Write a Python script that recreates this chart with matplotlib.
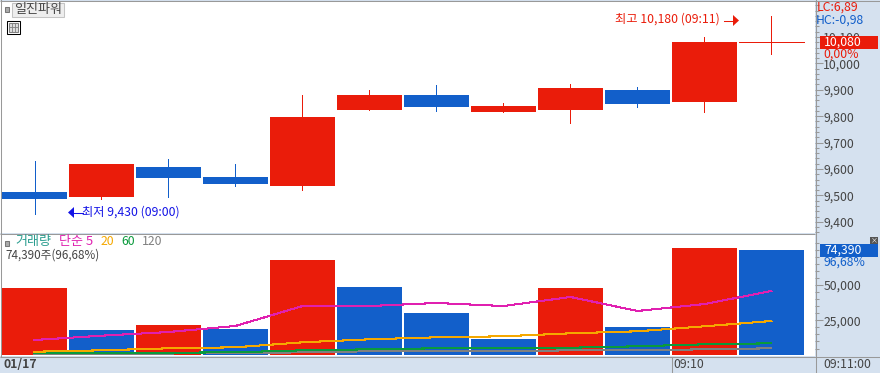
import matplotlib
matplotlib.use("Agg")
import matplotlib.pyplot as plt
from matplotlib.patches import Rectangle, Polygon

plt.rcParams['font.family'] = ['Noto Sans CJK KR', 'DejaVu Sans']

# candles
opens  = [9513, 9494, 9608, 9570, 9536, 9823, 9879, 9815, 9823, 9898, 9853, 10080]
closes = [9487, 9619, 9566, 9543, 9796, 9879, 9834, 9838, 9906, 9845, 10080, 10080]
highs  = [9630, 9619, 9638, 9619, 9879, 9898, 9917, 9849, 9921, 9909, 10100, 10180]
lows   = [9430, 9485, 9494, 9536, 9521, 9823, 9819, 9815, 9774, 9834, 9815, 10034]

# volume
volumes = [47900, 18100, 21700, 18800, 67700, 48600, 30200, 11800, 47900, 20300, 76200, 74390]
vol_up  = [True, False, True, False, True, False, False, False, True, False, True, False]
ma5   = [11050, 14100, 16700, 21000, 35100, 35100, 37250, 35100, 41500, 31600, 36500, 45750]
ma20  = [2760, 3750, 5170, 5880, 9420, 11540, 12960, 13670, 15790, 17210, 20750, 24500]
ma60  = [1840, 1980, 2050, 2340, 3750, 4460, 5170, 5170, 5590, 6590, 8000, 8710]
ma120 = [1350, 1420, 1490, 1630, 2340, 3050, 3050, 3050, 3750, 3750, 4460, 5170]

price_ticks = [9400, 9500, 9600, 9700, 9800, 9900, 10000, 10100]
price_labels = ['9,400', '9,500', '9,600', '9,700', '9,800', '9,900', '10,000', '10,100']
vol_ticks = [25000, 50000]
vol_labels = ['25,000', '50,000']

RED = '#ea1c0a'
BLUE = '#125fca'
GREY = '#999999'
TXT = '#444444'
PANEL = '#d5e1ef'
W, H = 880, 373


def axes_px(x0, y0, x1, y1):
    return fig.add_axes([x0 / W, 1 - y1 / H, (x1 - x0) / W, (y1 - y0) / H])


def style_axis(ax, ticks, labels, minor):
    ax.set_xlim(-0.515, 11.65)
    ax.set_xticks([])
    ax.yaxis.tick_right()
    ax.set_yticks(ticks)
    ax.set_yticklabels(labels, fontsize=8.8, color=TXT)
    ax.set_yticks(minor, minor=True)
    ax.tick_params(axis='y', which='major', length=6, width=0.75, color=GREY, pad=0)
    ax.tick_params(axis='y', which='minor', length=3, width=0.75, color=GREY)
    for s in ax.spines.values():
        s.set_visible(False)


fig = plt.figure(figsize=(8.8, 3.73), dpi=100, facecolor=PANEL)

# price panel
ax = axes_px(0, 1, 815, 233)
n = range(len(opens))
for i in n:
    c = RED if closes[i] >= opens[i] else BLUE
    ax.vlines(i, lows[i], highs[i], color=c, lw=0.72, antialiased=False)
    if opens[i] == closes[i]:
        ax.hlines(closes[i], i - 0.485, i + 0.485, color=c, lw=0.72, antialiased=False)
    else:
        ax.bar(i, abs(closes[i] - opens[i]), 0.97, min(opens[i], closes[i]), color=c, antialiased=False, zorder=2)
ax.set_ylim(9358, 10236)
minor_p = [v for v in range(9360, 10240, 20) if v not in price_ticks]
style_axis(ax, price_ticks, price_labels, minor_p)

# volume panel
ax2 = axes_px(0, 234, 815, 356)
ax2.bar(list(n), volumes, 0.97, bottom=300, color=[RED if u else BLUE for u in vol_up], antialiased=False)
x = list(n)
ax2.plot(x, ma120, color='#808080', lw=0.75, antialiased=False)
ax2.plot(x, ma60, color='#0a9a3c', lw=0.75, antialiased=False)
ax2.plot(x, ma20, color='#f5a800', lw=0.75, antialiased=False)
ax2.plot(x, ma5, color='#e020b0', lw=0.75, antialiased=False)
ax2.set_ylim(-280, 86100)
minor_v = [v for v in range(5000, 85000, 5000) if v not in vol_ticks]
style_axis(ax2, vol_ticks, vol_labels, minor_v)

# overlay in pixel space for the chrome and labels
ov = fig.add_axes([0, 0, 1, 1], zorder=10)
ov.set_xlim(0, W)
ov.set_ylim(H, 0)
ov.axis('off')
ov.patch.set_alpha(0)

for y in [0.5, 233.5, 356.5]:
    ov.plot([0, W if y != 233.5 else 815], [y, y], color=GREY, lw=0.75, solid_capstyle='butt')
ov.plot([0.5, 0.5], [0, 356], color=GREY, lw=0.75)
ov.plot([815.5, 815.5], [0, H], color=GREY, lw=0.75)
ov.plot([671.5, 671.5], [357, H], color=GREY, lw=0.75)

# title box and icons
ov.add_patch(Rectangle((11.5, 2.5), 52, 14, fc='#eeeeee', ec='#c4c4c4', lw=0.75))
ov.add_patch(Rectangle((4.5, 6.5), 4, 5, fc='#aaaaaa', ec='#777777', lw=0.75))
ov.text(38, 9.5, '일진파워', fontsize=9.4, color=TXT, ha='center', va='center')
ov.add_patch(Rectangle((6.5, 20.5), 13, 13, fc='white', ec='black', lw=0.75))
ov.add_patch(Rectangle((8.5, 22.5), 9, 9, fc='#dddddd', ec='#808080', lw=0.75))
for v in [11.5, 14.5]:
    ov.plot([v, v], [22.5, 31.5], color='#808080', lw=0.6)
ov.plot([8.5, 17.5], [27, 27], color='#808080', lw=0.6)

# high / low notes
ov.text(615, 19.5, '최고 10,180 (09:11)', fontsize=8.8, color=RED, ha='left', va='center')
ov.plot([724, 733], [20.5, 20.5], color=RED, lw=0.75)
ov.add_patch(Polygon([[733, 15], [739, 20.5], [733, 26]], fc=RED, ec=RED, lw=0))
ov.text(82, 212, '최저 9,430 (09:00)', fontsize=8.8, color='#1414e6', ha='left', va='center')
ov.plot([73, 83], [212.5, 212.5], color='#1414e6', lw=0.75)
ov.add_patch(Polygon([[74, 207], [68, 212.5], [74, 218]], fc='#1414e6', ec='#1414e6', lw=0))

# right panel labels
ov.text(817, 7.5, 'LC:6,89', fontsize=8.8, color=RED, ha='left', va='center')
ov.text(816, 20, 'HC:-0,98', fontsize=8.8, color=BLUE, ha='left', va='center')
ov.add_patch(Rectangle((820, 36), 58, 13, fc=RED, ec='none'))
ov.text(824, 42, '10,080', fontsize=8.8, color='white', ha='left', va='center')
ov.text(823, 54, '0,00%', fontsize=8.8, color=RED, ha='left', va='center')
ov.add_patch(Rectangle((820, 244), 58, 13, fc=BLUE, ec='none'))
ov.text(824, 250, '74,390', fontsize=8.8, color='white', ha='left', va='center')
ov.text(823, 262, '96,68%', fontsize=8.8, color=BLUE, ha='left', va='center')
ov.add_patch(Rectangle((870, 237), 8, 7, fc='#555555', ec='none'))
ov.text(874, 240.5, '×', fontsize=5, color='white', ha='center', va='center')

# volume legend
ov.add_patch(Rectangle((4.5, 240.5), 4, 5, fc='#aaaaaa', ec='#777777', lw=0.75))
ov.text(15, 241.5, '거래량', fontsize=9.4, color='#2a9d8f', ha='left', va='center')
ov.text(59, 241.5, '단순 5', fontsize=9.4, color='#e020b0', ha='left', va='center')
ov.text(101, 241.5, '20', fontsize=8.8, color='#f5a800', ha='left', va='center')
ov.text(121, 241.5, '60', fontsize=8.8, color='#0a9a3c', ha='left', va='center')
ov.text(142, 241.5, '120', fontsize=8.8, color='#808080', ha='left', va='center')
ov.text(5, 255, '74,390주(96,68%)', fontsize=8.4, color=TXT, ha='left', va='center')

# time strip
ov.text(3, 364.5, '01/17', fontsize=8.8, color=TXT, fontweight='bold', ha='left', va='center')
ov.text(673, 364.5, '09:10', fontsize=8.8, color=TXT, ha='left', va='center')
ov.text(823, 364.5, '09:11:00', fontsize=8.8, color=TXT, ha='left', va='center')

fig.savefig('out.png', dpi=100, facecolor=PANEL)
